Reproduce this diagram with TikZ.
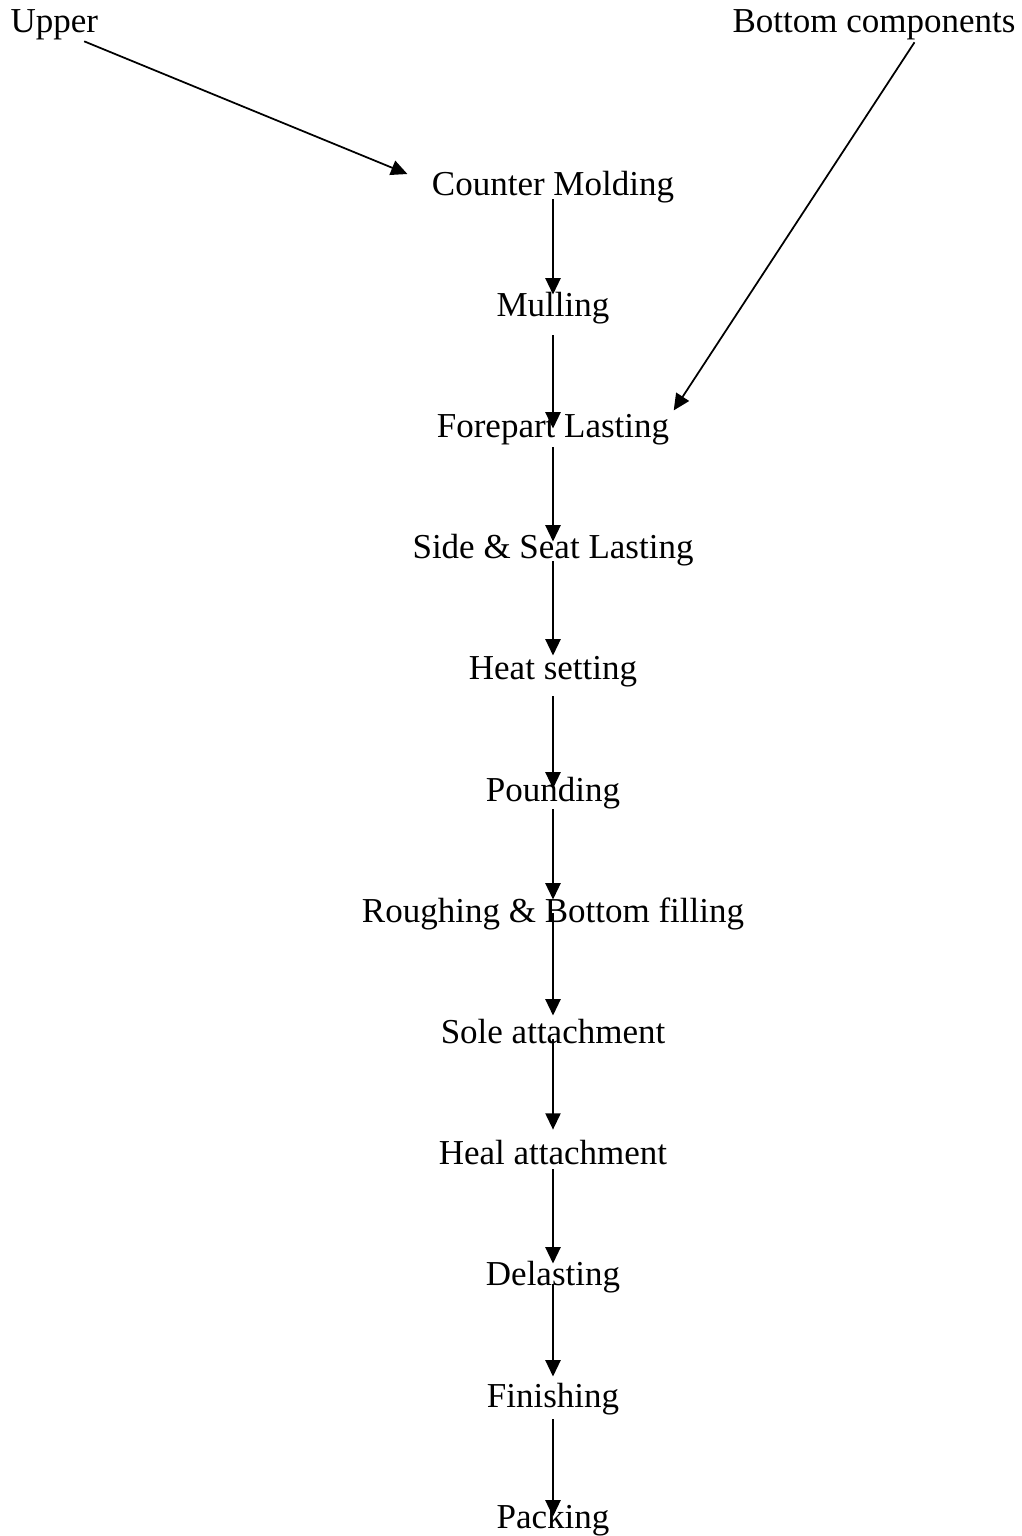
\documentclass[tikz,border=0pt]{standalone}
\usepackage{fontspec}
\setmainfont{Liberation Serif}
\usepackage{tikz}
\usetikzlibrary{arrows.meta}

\begin{document}
\begin{tikzpicture}[x=0.3429pt,y=-0.3429pt,>={Triangle[length=5.6pt,width=5.2pt]},font=\fontsize{12}{14}\selectfont]
\tikzset{lbl/.style={inner sep=0pt,text height=0.7em,text depth=0.22em,anchor=base},
  arr/.style={->,line width=0.6pt,draw=black}}
\useasboundingbox (0,0) rectangle (1022,1536);
% inputs
\node[lbl,anchor=base west] (up) at (10,33) {Upper};
\node[lbl,anchor=base east] (bc) at (1016,33) {Bottom components};
% process steps
\node[lbl] (cm) at (553,195) {Counter Molding};
\node[lbl] (mul) at (553,316.2) {Mulling};
\node[lbl] (fp) at (553,437.4) {Forepart Lasting};
\node[lbl] (ssl) at (553,558.6) {Side \& Seat Lasting};
\node[lbl] (hs) at (553,679.8) {Heat setting};
\node[lbl] (pd) at (553,801) {Pounding};
\node[lbl] (rbf) at (553,922.2) {Roughing \& Bottom filling};
\node[lbl] (sa) at (553,1043.4) {Sole attachment};
\node[lbl] (ha) at (553,1164.6) {Heal attachment};
\node[lbl] (dl) at (553,1285.8) {Delasting};
\node[lbl] (fin) at (553,1407) {Finishing};
\node[lbl] (pk) at (553,1528.2) {Packing};
% feeds
\draw[arr] ([xshift=-4.97pt,yshift=-0.45pt]up.south east) -- ([xshift=-8.23pt]cm.north west);
\draw[arr] ([xshift=13.89pt,yshift=-0.79pt]bc.south) -- ([xshift=1.37pt,yshift=2.06pt]fp.north east);
% main line
\draw[arr,shorten <=-0.93pt,shorten >=0.24pt] (cm.south) -- (mul.north);
\draw[arr,shorten <=4.15pt,shorten >=-4.15pt] (mul.south) -- (fp.north);
\draw[arr,shorten <=0.99pt,shorten >=-1.34pt] (fp.south) -- (ssl.north);
\draw[arr,shorten <=-1.47pt,shorten >=1.13pt] (ssl.south) -- (hs.north);
\draw[arr,shorten <=3.26pt,shorten >=-2.91pt] (hs.south) -- (pd.north);
\draw[arr,shorten <=0.45pt,shorten >=0.58pt] (pd.south) -- (rbf.north);
\draw[arr,shorten <=-5.49pt,shorten >=2.37pt] (rbf.south) -- (sa.north);
\draw[arr,shorten <=-3.77pt,shorten >=4.8pt] (sa.south) -- (ha.north);
\draw[arr,shorten <=-0.79pt,shorten >=0.45pt] (ha.south) -- (dl.north);
\draw[arr,shorten <=-2.91pt,shorten >=3.26pt] (dl.south) -- (fin.north);
\draw[arr,shorten <=1.82pt,shorten >=-3.19pt] (fin.south) -- (pk.north);
\end{tikzpicture}
\end{document}
